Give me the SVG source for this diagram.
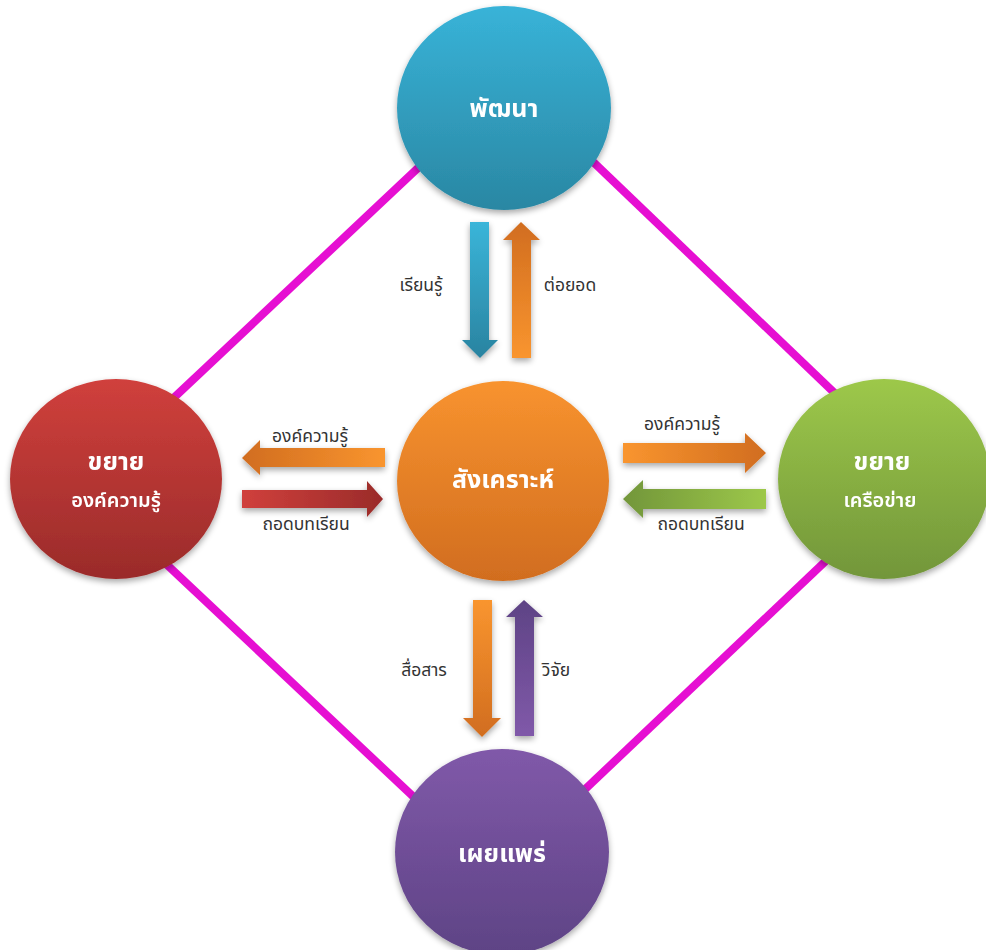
<svg xmlns="http://www.w3.org/2000/svg" width="986" height="950" viewBox="0 0 986 950">
<defs>
<style>
.lbl{font-family:"Noto Sans Thai","Noto Sans","DejaVu Sans",sans-serif;font-size:17.5px;fill:#333;}
.ttl{font-family:"Noto Sans Thai","Noto Sans","DejaVu Sans",sans-serif;font-weight:bold;fill:#fff;text-anchor:middle;}
.sub{font-family:"Noto Sans Thai","Noto Sans","DejaVu Sans",sans-serif;font-weight:600;fill:#fff;text-anchor:middle;font-size:20px;}
.con{stroke:#E60FD2;stroke-width:8;fill:none;}
</style>
<filter id="sh" x="-20%" y="-20%" width="140%" height="140%">
<feGaussianBlur in="SourceAlpha" stdDeviation="3"/>
<feOffset dx="0" dy="3" result="b"/>
<feComponentTransfer><feFuncA type="linear" slope="0.35"/></feComponentTransfer>
<feMerge><feMergeNode/><feMergeNode in="SourceGraphic"/></feMerge>
</filter>
<linearGradient id="gBlue" x1="0" y1="0" x2="0" y2="1"><stop offset="0" stop-color="#38B3D8"/><stop offset="1" stop-color="#2A87A3"/></linearGradient>
<linearGradient id="gRed" x1="0" y1="0" x2="0" y2="1"><stop offset="0" stop-color="#D0403C"/><stop offset="1" stop-color="#9A2B2A"/></linearGradient>
<linearGradient id="gOr" x1="0" y1="0" x2="0" y2="1"><stop offset="0" stop-color="#F8932F"/><stop offset="1" stop-color="#D16D1F"/></linearGradient>
<linearGradient id="gGr" x1="0" y1="0" x2="0" y2="1"><stop offset="0" stop-color="#9DC84A"/><stop offset="1" stop-color="#72963A"/></linearGradient>
<linearGradient id="gPu" x1="0" y1="0" x2="0" y2="1"><stop offset="0" stop-color="#8059A9"/><stop offset="1" stop-color="#5E4385"/></linearGradient>
<linearGradient id="aBlueD" x1="0" y1="0" x2="0" y2="1"><stop offset="0" stop-color="#3AB5D9"/><stop offset="1" stop-color="#2A83A0"/></linearGradient>
<linearGradient id="aOrU" x1="0" y1="0" x2="0" y2="1"><stop offset="0" stop-color="#D16D1F"/><stop offset="1" stop-color="#F9952F"/></linearGradient>
<linearGradient id="aOrD" x1="0" y1="0" x2="0" y2="1"><stop offset="0" stop-color="#F9952F"/><stop offset="1" stop-color="#D16D1F"/></linearGradient>
<linearGradient id="aPuU" x1="0" y1="0" x2="0" y2="1"><stop offset="0" stop-color="#5E4385"/><stop offset="1" stop-color="#8059A9"/></linearGradient>
<linearGradient id="aOrL" x1="0" y1="0" x2="1" y2="0"><stop offset="0" stop-color="#D16D1F"/><stop offset="1" stop-color="#F9952F"/></linearGradient>
<linearGradient id="aOrR" x1="0" y1="0" x2="1" y2="0"><stop offset="0" stop-color="#F9952F"/><stop offset="1" stop-color="#D16D1F"/></linearGradient>
<linearGradient id="aRedR" x1="0" y1="0" x2="1" y2="0"><stop offset="0" stop-color="#D0403C"/><stop offset="1" stop-color="#9A2B2A"/></linearGradient>
<linearGradient id="aGrL" x1="0" y1="0" x2="1" y2="0"><stop offset="0" stop-color="#72963A"/><stop offset="1" stop-color="#9DC84A"/></linearGradient>
</defs>
<rect width="986" height="950" fill="#fff"/>
<g id="connectors">
<line class="con" x1="130" y1="439" x2="470" y2="119"/>
<line class="con" x1="540" y1="111" x2="870" y2="427"/>
<line class="con" x1="130" y1="530" x2="470" y2="850"/>
<line class="con" x1="870" y1="519" x2="540" y2="832"/>
<g id="arrows" filter="url(#sh)">
<polygon fill="url(#aBlueD)" points="470,222 489,222 489,340 498,340 480,358 462,340 470,340"/>
<polygon fill="url(#aOrU)" points="521,222 540,240 531,240 531,358 512,358 512,240 503,240"/>
<polygon fill="url(#aOrL)" points="242,458 260,440 260,448 385,448 385,467 260,467 260,475"/>
<polygon fill="url(#aRedR)" points="242,490 367,490 367,481 383,499 367,517 367,508 242,508"/>
<polygon fill="url(#aOrR)" points="623,443 745,443 745,433 766,453 745,473 745,463 623,463"/>
<polygon fill="url(#aGrL)" points="623,499 643,480 643,489 766,489 766,509 643,509 643,518"/>
<polygon fill="url(#aOrD)" points="473,600 492,600 492,718 501,718 482,737 463,718 473,718"/>
<polygon fill="url(#aPuU)" points="524,600 543,617 534,617 534,736 515,736 515,617 506,617"/>
</g>
<text class="lbl" x="421" y="291" text-anchor="middle">เรียนรู้</text>
<text class="lbl" x="570" y="291" text-anchor="middle">ต่อยอด</text>
<text class="lbl" x="310" y="442" text-anchor="middle">องค์ความรู้</text>
<text class="lbl" x="306" y="530" text-anchor="middle">ถอดบทเรียน</text>
<text class="lbl" x="682" y="430" text-anchor="middle">องค์ความรู้</text>
<text class="lbl" x="701" y="530" text-anchor="middle">ถอดบทเรียน</text>
<text class="lbl" x="424" y="676" text-anchor="middle">สื่อสาร</text>
<text class="lbl" x="556" y="676" text-anchor="middle">วิจัย</text>
</g>
<g id="node-top" filter="url(#sh)">
<ellipse cx="504" cy="108" rx="107" ry="102" fill="url(#gBlue)"/>
<text class="ttl" x="504" y="117" font-size="25">พัฒนา</text>
</g>
<g id="node-left" filter="url(#sh)">
<ellipse cx="116" cy="479" rx="106" ry="100" fill="url(#gRed)"/>
<text class="ttl" x="116" y="470" font-size="25">ขยาย</text>
<text class="sub" x="116" y="507">องค์ความรู้</text>
</g>
<g id="node-center" filter="url(#sh)">
<ellipse cx="503" cy="481" rx="106" ry="100" fill="url(#gOr)"/>
<text class="ttl" x="503" y="488" font-size="25">สังเคราะห์</text>
</g>
<g id="node-right" filter="url(#sh)">
<ellipse cx="884" cy="479" rx="106" ry="100" fill="url(#gGr)"/>
<text class="ttl" x="882" y="470" font-size="25">ขยาย</text>
<text class="sub" x="880" y="507">เครือข่าย</text>
</g>
<g id="node-bottom" filter="url(#sh)">
<ellipse cx="502" cy="852" rx="107" ry="103" fill="url(#gPu)"/>
<text class="ttl" x="502" y="862" font-size="25">เผยแพร่</text>
</g>
</svg>
